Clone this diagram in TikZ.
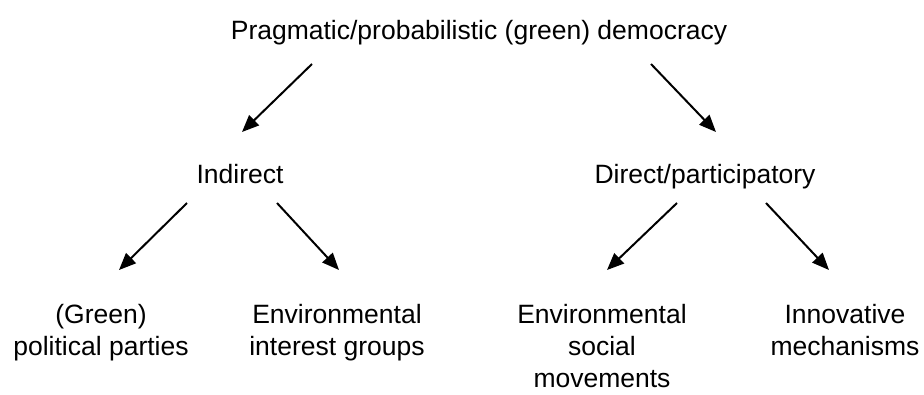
\documentclass[tikz,border=0pt]{standalone}
\usepackage{fontspec}
\setmainfont{Liberation Sans}
\usetikzlibrary{arrows.meta}
\begin{document}
\begin{tikzpicture}[x=1pt,y=-1pt,
  lbl/.style={inner sep=0pt, align=center, anchor=base, font=\fontsize{26.5}{32}\selectfont},
  arr/.style={line width=2pt, -{Triangle[length=17pt,width=14pt]}}]
\useasboundingbox (0,0) rectangle (924,394);

% labels (anchored at the baseline of their last line)
\node[lbl] (root) at (479,39) {Pragmatic/probabilistic (green) democracy};
\node[lbl] (ind) at (240,183) {Indirect};
\node[lbl] (dir) at (705,183) {Direct/participatory};
\node[lbl] (gp) at (101,355) {(Green)\\political parties};
\node[lbl] (eig) at (337,355) {Environmental\\interest groups};
\node[lbl] (esm) at (602,387) {Environmental\\social\\movements};
\node[lbl] (im) at (845,355) {Innovative\\mechanisms};

% arrow end points
\coordinate (root-l) at (312,64);
\coordinate (root-r) at (651,64);
\coordinate (ind-in) at (242,132);
\coordinate (dir-in) at (716,132);
\coordinate (ind-l) at (187,203);
\coordinate (ind-r) at (277,203);
\coordinate (dir-l) at (677,203);
\coordinate (dir-r) at (766,203);
\coordinate (gp-in) at (119,270);
\coordinate (eig-in) at (339,270);
\coordinate (esm-in) at (607,270);
\coordinate (im-in) at (829,270);

% connectors
\draw[arr] (root-l) -- (ind-in);
\draw[arr] (root-r) -- (dir-in);
\draw[arr] (ind-l) -- (gp-in);
\draw[arr] (ind-r) -- (eig-in);
\draw[arr] (dir-l) -- (esm-in);
\draw[arr] (dir-r) -- (im-in);
\end{tikzpicture}
\end{document}
